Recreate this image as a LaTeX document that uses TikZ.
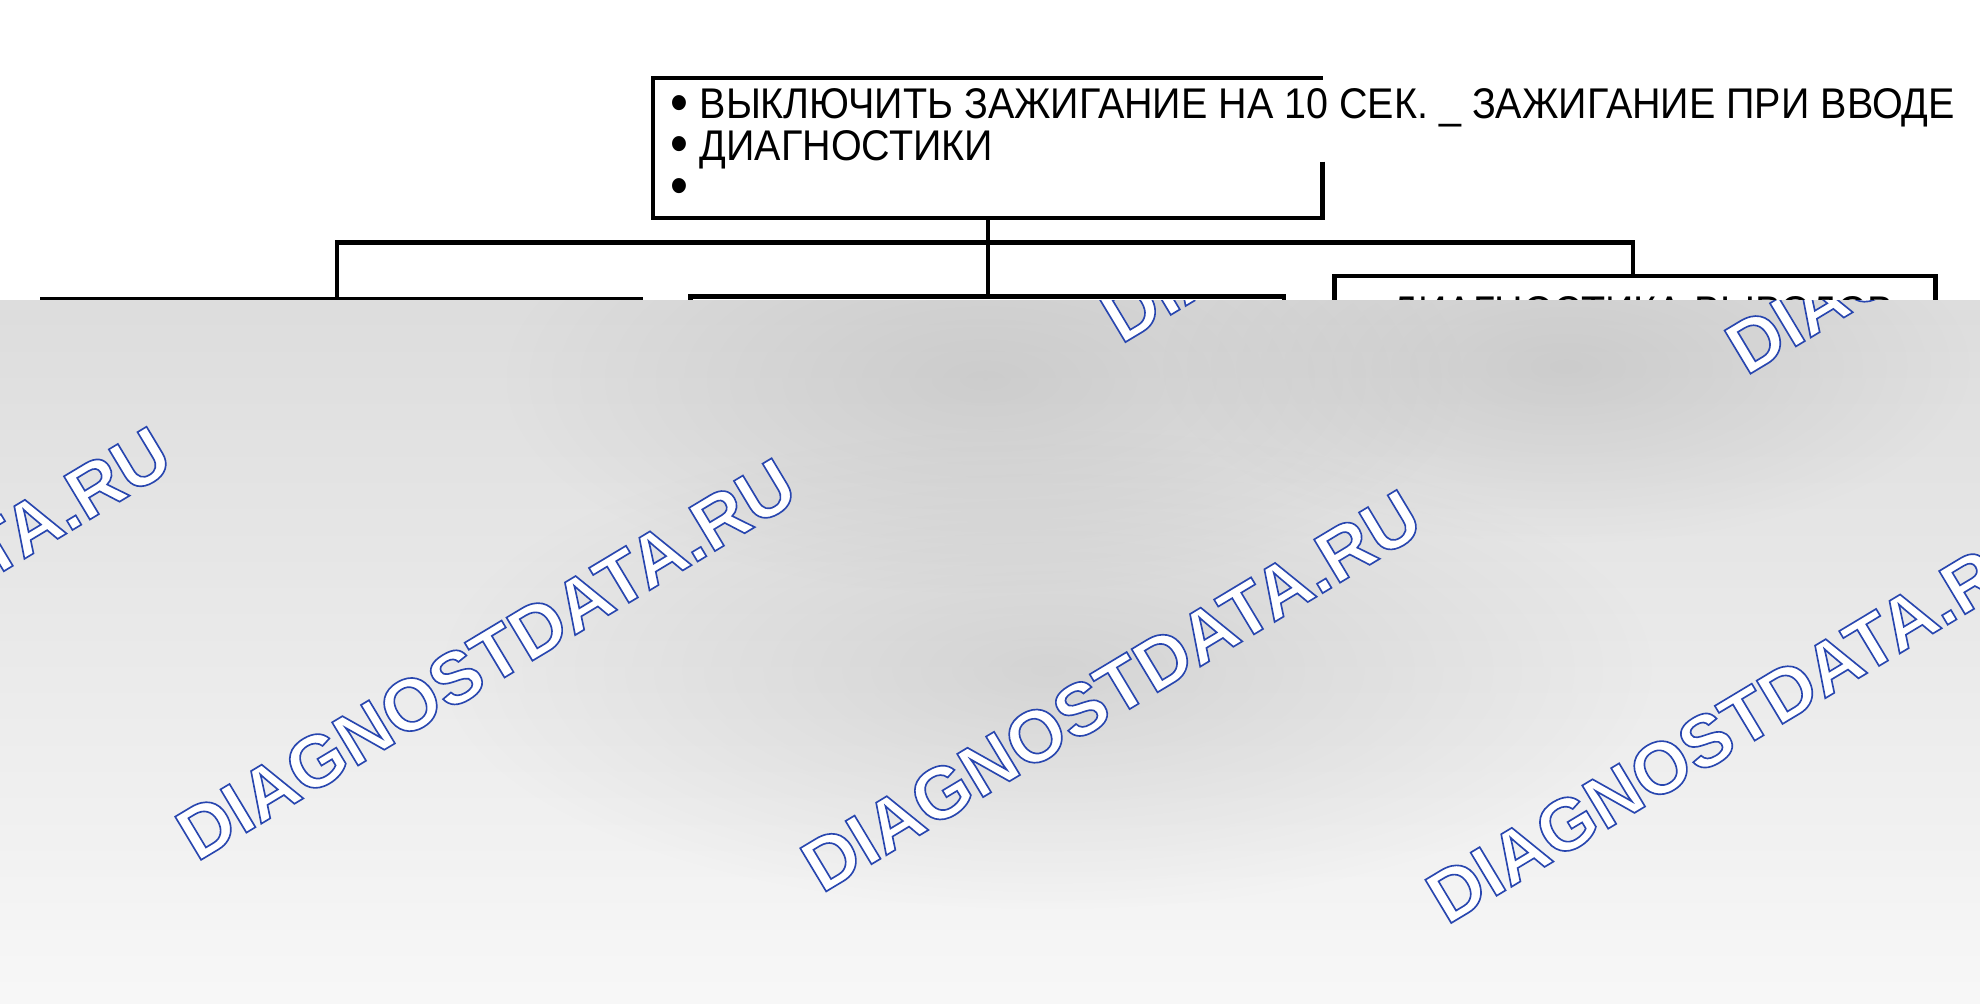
\documentclass[tikz,border=0pt]{standalone}
\usepackage{fontspec}
\setmainfont{Liberation Sans}
\newfontfamily\boxfont[FakeStretch=0.92]{Liberation Sans}
\usetikzlibrary{positioning,fadings}

\tikzfading[name=blobfade, inner color=transparent!0, outer color=transparent!100]

\newcommand{\bul}{{\fontsize{44}{33}\selectfont\raisebox{-2pt}{•}}}
% outlined letters: white fill, blue rim
\newcommand{\rimtext}[1]{\special{pdf:literal direct 2 Tr 1.3 w 0.157 0.275 0.686 RG}#1\special{pdf:literal direct 0 Tr}}

\tikzset{
  box/.style={draw, line width=3.4pt, anchor=north west, inner sep=0pt},
  line/.style={line width=3.4pt},
  txt/.style={anchor=base west, inner sep=0pt, font=\boxfont\fontsize{34}{36}\selectfont},
  wm/.style={rotate=31, inner sep=0pt, text=white, font=\fontsize{58}{60}\bfseries\selectfont},
  blob/.style={fill=gray!70, path fading=blobfade, opacity=.33}
}

\begin{document}
\begin{tikzpicture}[x=1pt,y=-1pt]
\useasboundingbox (0,0) rectangle (1568,795);

% upper box
\node[inner sep=0pt, minimum width=530pt, minimum height=110pt, anchor=north west] (top) at (517,62) {};
\draw[line] ([yshift=-66pt]top.north east) -- (top.south east) -- (top.south west)
  -- (top.north west) -- (top.north east);
\node[txt] (l1) at (531,94) {\bul\ ВЫКЛЮЧИТЬ ЗАЖИГАНИЕ НА 10 СЕК. \_ ЗАЖИГАНИЕ ПРИ ВВОДЕ};
\node[txt] (l2) at (531,127) {\bul\ ДИАГНОСТИКИ};
\node[txt] (l3) at (531,160) {\bul};

% lower boxes
\node[box, minimum width=474pt, minimum height=200pt] (b1) at (32,235) {};
\node[box, minimum width=470pt, minimum height=200pt] (b2) at (545,233) {};
\node[box, minimum width=476pt, minimum height=200pt] (b3) at (1055,217) {};
\node[txt, anchor=north west] (t3) at (1102,235) {ДИАГНОСТИКА ВЫВОДОВ};

% connectors
\coordinate (busL) at (267,192);
\coordinate (busR) at (1293,192);
\draw[line] (top.south) -- (top.south |- busL);
\draw[line] (b1.north -| busL) -- (busL) -- (busR) -- (b3.north -| busR);
\draw[line] (top.south |- busL) -- (b2.north -| top.south);

% grey cover with watermarks
\begin{scope}
\clip (0,238) rectangle (1568,795);
\shade[top color=gray!27, bottom color=gray!6] (0,238) rectangle (1568,795);
\fill[blob] (780,300) ellipse [x radius=380pt, y radius=170pt];
\fill[blob] (1240,290) ellipse [x radius=320pt, y radius=140pt];
\fill[blob] (830,530) ellipse [x radius=480pt, y radius=190pt];
\foreach \x/\y [count=\i] in {-110/497, 385/522, 880/547, 1375/572, 1117/112, 1612/137}
  \node[wm] (wm\i) at (\x,\y) {\rimtext{DIAGNOSTDATA.RU}};
\end{scope}
\end{tikzpicture}
\end{document}
